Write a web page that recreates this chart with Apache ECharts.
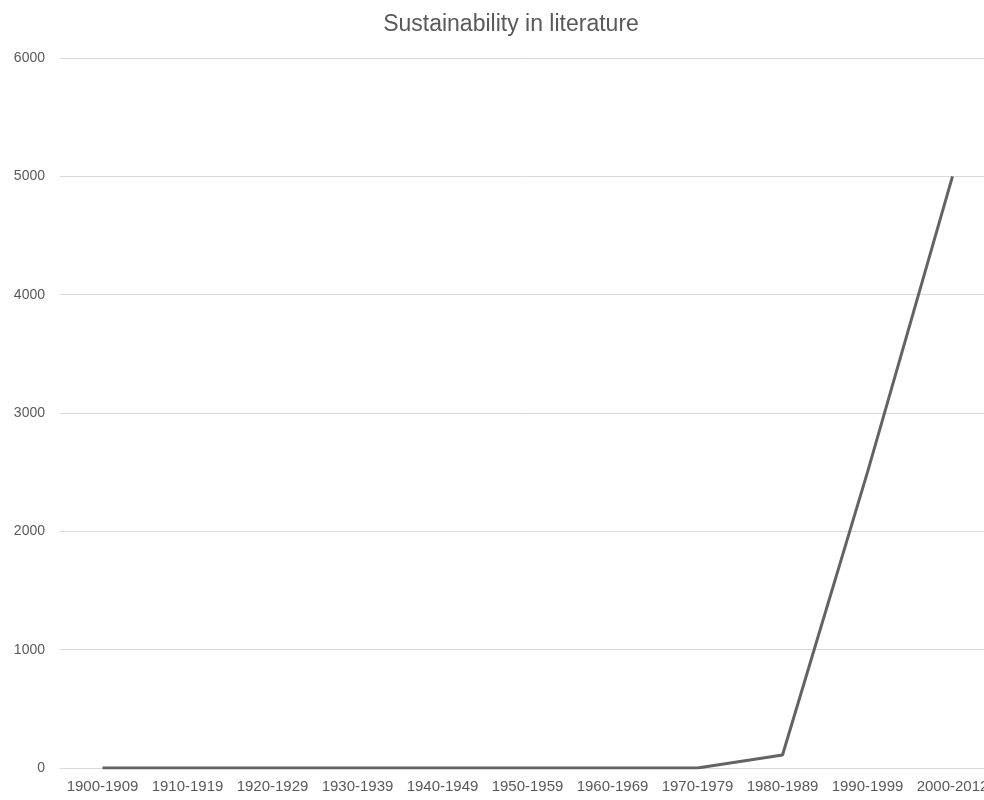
<!DOCTYPE html>
<html>
<head>
<meta charset="utf-8">
<script src="https://cdn.jsdelivr.net/npm/echarts@6/dist/echarts.min.js"></script>
<style>
html,body{margin:0;padding:0;background:#fff;}
#chart{width:984px;height:800px;}
</style>
</head>
<body>
<div id="chart"></div>
<script>
const titleText = 'Sustainability in literature';
const categories = ['1900-1909','1910-1919','1920-1929','1930-1939','1940-1949','1950-1959','1960-1969','1970-1979','1980-1989','1990-1999','2000-2012'];
const values = [0,0,0,0,0,0,0,0,110,2500,5000];
const yTicks = [0,1000,2000,3000,4000,5000,6000];

const chart = echarts.init(document.getElementById('chart'), null, {renderer:'canvas'});
chart.setOption({
  animation:false,
  backgroundColor:'#ffffff',
  title:{
    text:titleText,
    left:506, top:8,
    textAlign:'center',
    textStyle:{fontFamily:'Liberation Sans', fontSize:23, fontWeight:'normal', color:'#595959'}
  },
  grid:{left:60, width:935, top:58, bottom:32, containLabel:false, outerBoundsMode:'none'},
  xAxis:{
    type:'category',
    data:categories,
    boundaryGap:true,
    axisLine:{show:true, lineStyle:{color:'#d9d9d9', width:1}},
    axisTick:{show:false},
    axisLabel:{fontFamily:'Liberation Sans', fontSize:15, color:'#595959', margin:11, interval:0}
  },
  yAxis:{
    type:'value',
    min:yTicks[0], max:yTicks[yTicks.length-1], interval:1000,
    axisLine:{show:false},
    axisTick:{show:false},
    splitLine:{lineStyle:{color:'#d9d9d9', width:1}},
    axisLabel:{fontFamily:'Liberation Sans', fontSize:14, color:'#595959', margin:15, formatter:function(v){return String(v);}}
  },
  series:[{
    type:'line',
    data:values,
    symbol:'none',
    lineStyle:{color:'#636363', width:3},
    itemStyle:{color:'#636363'}
  }]
});
</script>
</body>
</html>
